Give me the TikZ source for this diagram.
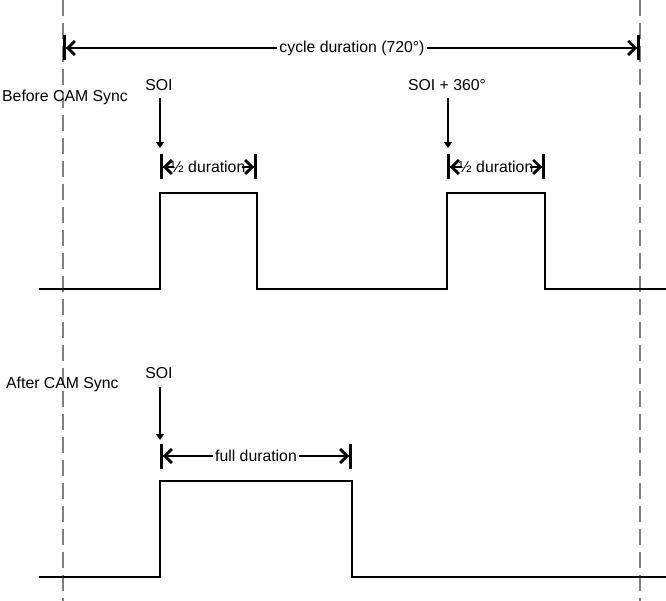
\documentclass[tikz,border=0pt]{standalone}
\usepackage{fontspec}
\setmainfont{Liberation Sans}
\usetikzlibrary{arrows.meta}
\begin{document}
\begin{tikzpicture}[x=1pt,y=-1pt,
  guide/.style={draw=black!50, line width=1.4pt, dash pattern=on 16pt off 7pt},
  signal/.style={draw=black, line width=2.9pt, line join=miter, line cap=rect},
  dim/.style={draw=black, line width=2.6pt,
    {Bar[width=25pt,line width=2.8pt]Straight Barb[length=7pt,width=14pt,line width=2.8pt]}-{Straight Barb[length=7pt,width=14pt,line width=2.8pt]Bar[width=25pt,line width=2.8pt]}},
  pointer/.style={draw=black, line width=1.3pt, -{Triangle[length=6pt,width=8pt]}},
  lbl/.style={font=\fontsize{15.8}{18}\selectfont, inner sep=0pt},
  dimlbl/.style={lbl, fill=white, inner xsep=2pt, inner ysep=3pt},
  halflbl/.style={lbl, fill=white, inner xsep=-3pt, inner ysep=2pt}
]
\useasboundingbox (0,0) rectangle (666,601);

% guide lines
\coordinate (gLt) at (63,0);
\coordinate (gLb) at (63,601);
\coordinate (gRt) at (640,0);
\coordinate (gRb) at (640,601);
\draw[guide] (gLt) -- (gLb);
\draw[guide] (gRt) -- (gRb);

% cycle duration
\coordinate (cycA) at (63,48);
\coordinate (cycB) at (640,48);
\draw[dim] (cycA) -- (cycB);
\node[dimlbl] (cyc) at (352,48) {cycle duration (720°)};

% Before CAM Sync
\node[lbl, anchor=west] (before) at (2,97) {Before CAM Sync};
\node[lbl] (soi1) at (159,85) {SOI};
\coordinate (soi1t) at (160,98);
\coordinate (soi1b) at (160,148);
\draw[pointer] (soi1t) -- (soi1b);
\node[lbl] (soi2) at (447,85) {SOI + 360°};
\coordinate (soi2t) at (448,98);
\coordinate (soi2b) at (448,148);
\draw[pointer] (soi2t) -- (soi2b);

\coordinate (h1a) at (160,167);
\coordinate (h1b) at (257,167);
\draw[dim] (h1a) -- (h1b);
\node[halflbl] (h1) at (208,167) {½ duration};
\coordinate (h2a) at (447,167);
\coordinate (h2b) at (545,167);
\draw[dim] (h2a) -- (h2b);
\node[halflbl] (h2) at (496,167) {½ duration};

\draw[signal] (40,289) -- (160,289) -- (160,193) -- (257,193) -- (257,289)
  -- (447,289) -- (447,193) -- (545,193) -- (545,289) -- (665,289);

% After CAM Sync
\node[lbl, anchor=west] (after) at (6,384) {After CAM Sync};
\node[lbl] (soi3) at (159,373) {SOI};
\coordinate (soi3t) at (160,387);
\coordinate (soi3b) at (160,440);
\draw[pointer] (soi3t) -- (soi3b);

\coordinate (fa) at (160,456);
\coordinate (fb) at (352,456);
\draw[dim] (fa) -- (fb);
\node[dimlbl] (full) at (256,456) {full duration};

\draw[signal] (40,577) -- (160,577) -- (160,481) -- (352,481) -- (352,577) -- (665,577);
\end{tikzpicture}
\end{document}
